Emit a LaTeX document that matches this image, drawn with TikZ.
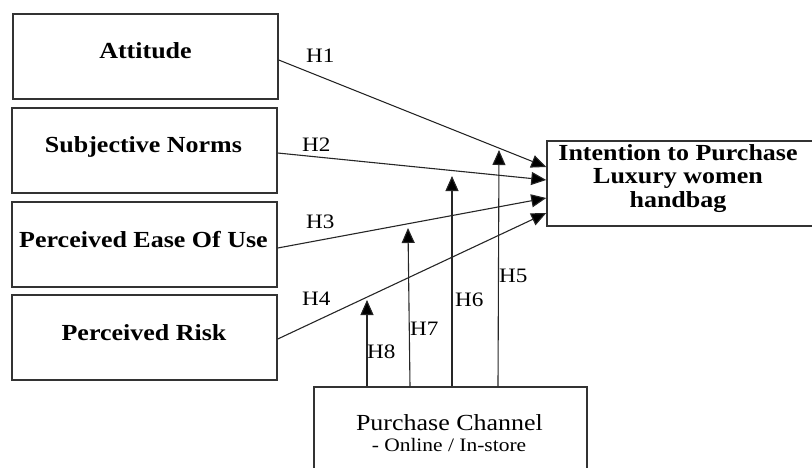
\documentclass[tikz,border=0pt]{standalone}
\usepackage{fontspec}
\setmainfont{Liberation Serif}[FakeStretch=1.13]
\usetikzlibrary{arrows.meta}
\begin{document}
\begin{tikzpicture}[x=1pt,y=-1pt,
  box/.style={draw=black!80,line width=1.5pt,inner sep=0pt},
  lbl/.style={font=\fontsize{20.5}{24}\selectfont,anchor=base west,inner sep=0pt},
  arr/.style={line width=1.1pt,draw=black!85,-{Triangle[length=15pt,width=13pt,fill=black]}},
  btxt/.style={font=\fontsize{23}{23.5}\selectfont\bfseries,anchor=base,inner sep=0pt,align=center}]
\useasboundingbox (0,0) rectangle (812,467);
\clip (0,0) rectangle (812,467);
% boxes
\node[box,minimum width=265pt,minimum height=85pt] (att) at (145.5,56.5) {};
\node[box,minimum width=265pt,minimum height=85pt] (sn) at (144.5,150.5) {};
\node[box,minimum width=265pt,minimum height=85pt] (pe) at (144.5,244.5) {};
\node[box,minimum width=265pt,minimum height=85pt] (pr) at (144.5,337.5) {};
\node[box,minimum width=283pt,minimum height=85pt] (int) at (688.5,183.5) {};
\node[box,minimum width=273pt,minimum height=113pt] (pc) at (450.5,443.5) {};
% texts
\node[btxt] (attT) at (145.5,58) {Attitude};
\node[btxt] (snT) at (143.5,152) {Subjective Norms};
\node[btxt] (peT) at (143.5,247) {Perceived Ease Of Use};
\node[btxt] (prT) at (144,340) {Perceived Risk};
\node[btxt] (intT) at (678,207) {Intention to Purchase\\Luxury women\\handbag};
\node[font=\fontsize{23}{23}\selectfont,anchor=base,inner sep=0pt] (pcT) at (449.5,430) {Purchase Channel};
\node[font=\fontsize{19}{19}\selectfont,anchor=base,inner sep=0pt] (pcS) at (449,451) {- Online / In-store};
% tips of moderating arrows
\coordinate (t8) at (367,300);
\coordinate (t7) at (408,228);
\coordinate (t6) at (452,176);
\coordinate (t5) at (499,150);
% main arrows
\draw[arr] ([yshift=-3.5pt]att.east) -- ([yshift=16.5pt]int.west);
\draw[arr] ([yshift=-2.5pt]sn.east) -- ([yshift=3.5pt]int.west);
\draw[arr] ([yshift=-3.5pt]pe.east) -- ([yshift=-14.5pt]int.west);
\draw[arr] ([yshift=-1.5pt]pr.east) -- ([yshift=-29.5pt]int.west);
% moderating arrows
\draw[arr] ([xshift=-83.5pt]pc.north) -- (t8);
\draw[arr] ([xshift=-40.5pt]pc.north) -- (t7);
\draw[arr] ([xshift=1.5pt]pc.north) -- (t6);
\draw[arr] ([xshift=47.5pt]pc.north) -- (t5);
% labels
\node[lbl] (h1) at (306,62) {H1};
\node[lbl] (h2) at (302,151) {H2};
\node[lbl] (h3) at (306,228) {H3};
\node[lbl] (h4) at (302,305) {H4};
\node[lbl] (h5) at (499,282) {H5};
\node[lbl] (h6) at (455,306) {H6};
\node[lbl] (h7) at (410,335) {H7};
\node[lbl] (h8) at (367,358) {H8};
\end{tikzpicture}
\end{document}
